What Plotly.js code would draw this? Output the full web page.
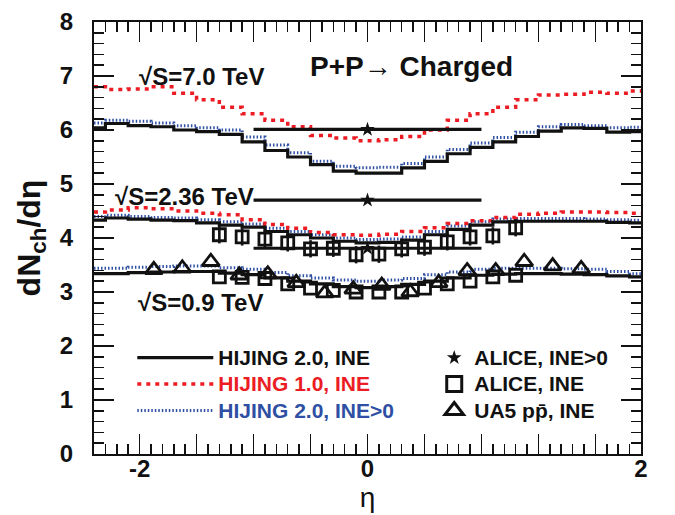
<!DOCTYPE html>
<html>
<head>
<meta charset="utf-8">
<script src="https://cdn.plot.ly/plotly-3.0.1.min.js"></script>
<style>html,body{margin:0;padding:0;background:#fff;}#chart{width:675px;height:515px;}</style>
</head>
<body>
<div id="chart"></div>
<script>
// ---- data ----
const eta = [-2.4,-2.2,-2.0,-1.8,-1.6,-1.4,-1.2,-1.0,-0.8,-0.6,-0.4,-0.2,0,0.2,0.4,0.6,0.8,1.0,1.2,1.4,1.6,1.8,2.0,2.2,2.4];

const hij20_7000 = [6.04,6.12,6.08,6.06,6.00,5.97,5.92,5.78,5.62,5.50,5.36,5.24,5.20,5.20,5.30,5.42,5.56,5.68,5.78,5.88,5.98,6.04,6.03,5.96,5.97];
const hij10_7000 = [6.80,6.75,6.76,6.80,6.68,6.56,6.42,6.30,6.18,6.06,5.90,5.85,5.80,5.82,5.88,6.00,6.18,6.30,6.42,6.56,6.65,6.66,6.70,6.68,6.72];
const hij20g_7000 = [6.13,6.18,6.16,6.13,6.08,6.04,6.00,5.87,5.72,5.58,5.42,5.33,5.30,5.31,5.38,5.50,5.64,5.76,5.86,5.96,6.06,6.10,6.08,6.04,6.05];

const hij20_2360 = [4.33,4.37,4.35,4.33,4.32,4.28,4.24,4.20,4.12,4.06,4.00,3.94,3.91,3.92,3.96,4.06,4.16,4.24,4.30,4.31,4.31,4.31,4.31,4.29,4.28];
const hij10_2360 = [4.48,4.52,4.56,4.54,4.50,4.46,4.43,4.34,4.25,4.18,4.10,4.06,4.05,4.07,4.12,4.19,4.27,4.32,4.38,4.44,4.46,4.48,4.48,4.47,4.46];
const hij20g_2360 = [4.40,4.42,4.40,4.38,4.37,4.34,4.30,4.26,4.18,4.12,4.06,4.00,3.97,3.98,4.02,4.12,4.22,4.30,4.35,4.36,4.36,4.36,4.35,4.34,4.33];

const hij20_900 = [3.34,3.34,3.36,3.37,3.38,3.38,3.35,3.32,3.26,3.20,3.15,3.10,3.08,3.10,3.14,3.20,3.26,3.31,3.33,3.34,3.34,3.33,3.32,3.30,3.28];
const hij20g_900 = [3.44,3.44,3.46,3.47,3.48,3.48,3.45,3.42,3.36,3.30,3.26,3.22,3.20,3.22,3.25,3.32,3.37,3.42,3.44,3.44,3.44,3.43,3.42,3.38,3.34];

const aliceRange = [-1, 1];
const aliceInel0 = [6.01, 4.70, 3.81];

const aliceEta = [-1.3,-1.1,-0.9,-0.7,-0.5,-0.3,-0.1,0.1,0.3,0.5,0.7,0.9,1.1,1.3];
const alice2360 = [4.06,4.02,3.98,3.91,3.80,3.81,3.69,3.70,3.80,3.83,3.93,4.02,4.04,4.19];
const alice2360Err = [0.16,0.16,0.16,0.16,0.16,0.16,0.16,0.16,0.16,0.16,0.16,0.16,0.16,0.16];
const alice900 = [3.28,3.27,3.25,3.15,3.07,3.03,3.00,3.00,3.00,3.07,3.15,3.20,3.28,3.31];

const ua5Eta = [-1.875,-1.625,-1.375,-1.125,-0.875,-0.625,-0.375,-0.125,0.125,0.375,0.625,0.875,1.125,1.375,1.625,1.875];
const ua5 = [3.41,3.44,3.56,3.31,3.33,3.17,2.98,3.05,3.12,3.00,3.17,3.39,3.39,3.56,3.48,3.43];

const xTickVals = [-2,-1.5,-1,-0.5,0,0.5,1,1.5,2,2.4];
const xTickText = ['-2','','','','0','','','','','2'];

// ---- styles ----
const RED = '#ec1c24', BLUE = '#2e4fa3', BLACK = '#111';
const FONT = 'Liberation Sans, Arial, Helvetica, sans-serif';
const blackLine = {color: BLACK, width: 3.2, shape: 'hvh'};
const redLine = {color: RED, width: 3.5, dash: '4px,5px', shape: 'hvh'};
const blueLine = {color: BLUE, width: 3, dash: '1.5px,2px', shape: 'hvh'};
const big = function (s) { return '<span style="font-size:21px">' + s + '</span>'; };

const traces = [];
function curve(y, line, name, show) {
  traces.push({x: eta, y: y, type: 'scatter', mode: 'lines', line: line,
    name: name, showlegend: show, legend: 'legend', hoverinfo: 'skip'});
}
curve(hij20g_7000, blueLine, 'b', false);
curve(hij20g_2360, blueLine, 'b', false);
curve(hij20g_900, blueLine, 'b', false);
curve(hij10_7000, redLine, 'r', false);
curve(hij10_2360, redLine, 'r', false);
curve(hij20_7000, blackLine, big('HIJING 2.0, INE'), true);
curve(hij20_2360, blackLine, 'k', false);
curve(hij20_900, blackLine, 'k', false);

// legend-only entries for red and blue
traces.push({x: [null], y: [null], type: 'scatter', mode: 'lines', line: redLine,
  name: '<span style="color:' + RED + ';font-size:21px">HIJING 1.0, INE</span>', legend: 'legend'});
traces.push({x: [null], y: [null], type: 'scatter', mode: 'lines', line: blueLine,
  name: '<span style="color:' + BLUE + ';font-size:21px">HIJING 2.0, INE&gt;0</span>', legend: 'legend'});

// ALICE INE>0 bands with star at eta=0
aliceInel0.forEach(function (v) {
  traces.push({x: aliceRange, y: [v, v], type: 'scatter', mode: 'lines',
    line: {color: BLACK, width: 3.2}, showlegend: false, hoverinfo: 'skip'});
  traces.push({x: [0], y: [v], type: 'scatter', mode: 'markers',
    marker: {symbol: 'star', size: 11, color: BLACK}, showlegend: false});
});

// ALICE INE squares
traces.push({x: aliceEta, y: alice2360, type: 'scatter', mode: 'markers',
  error_y: {type: 'data', array: alice2360Err, visible: true, color: BLACK, thickness: 2.6, width: 0},
  marker: {symbol: 'square-open', size: 12, color: BLACK, line: {width: 2.8, color: BLACK}},
  showlegend: false});
traces.push({x: aliceEta, y: alice900, type: 'scatter', mode: 'markers',
  marker: {symbol: 'square-open', size: 12, color: BLACK, line: {width: 2.8, color: BLACK}},
  showlegend: false});
// UA5 triangles
traces.push({x: ua5Eta, y: ua5, type: 'scatter', mode: 'markers',
  marker: {symbol: 'triangle-up-open', size: 15, color: BLACK, line: {width: 2.8, color: BLACK}},
  showlegend: false});

// second legend entries
traces.push({x: [null], y: [null], type: 'scatter', mode: 'markers', legend: 'legend2',
  marker: {symbol: 'star', size: 11, color: BLACK}, name: big('ALICE, INE&gt;0')});
traces.push({x: [null], y: [null], type: 'scatter', mode: 'markers', legend: 'legend2',
  marker: {symbol: 'square-open', size: 15, color: BLACK, line: {width: 3, color: BLACK}}, name: big('ALICE, INE')});
traces.push({x: [null], y: [null], type: 'scatter', mode: 'markers', legend: 'legend2',
  marker: {symbol: 'triangle-up-open', size: 17, color: BLACK, line: {width: 3, color: BLACK}}, name: big('UA5 pp\u0304, INE')});

const boldFont = function (s) { return {family: FONT, size: s, color: BLACK, weight: 'bold'}; };

const layout = {
  width: 675, height: 515,
  margin: {l: 94, r: 34, t: 22, b: 61},
  paper_bgcolor: '#fff', plot_bgcolor: '#fff',
  font: {family: FONT, color: BLACK},
  showlegend: true,
  xaxis: {
    range: [-2.4, 2.4], tickmode: 'array', tickvals: xTickVals, ticktext: xTickText,
    ticks: 'inside', ticklen: 20, tickwidth: 1.5, tickcolor: BLACK,
    minor: {dtick: 0.1, tick0: 0, ticks: 'inside', ticklen: 10, tickwidth: 1.5, tickcolor: BLACK},
    showgrid: false, zeroline: false, showline: true, linecolor: BLACK, linewidth: 2,
    mirror: 'allticks', tickfont: boldFont(24), ticklabelstandoff: -8,
    title: {text: '\u03b7', font: {family: FONT, size: 28, color: BLACK}, standoff: 2}
  },
  yaxis: {
    range: [0, 8], dtick: 1, tick0: 0,
    ticks: 'inside', ticklen: 20, tickwidth: 1.5, tickcolor: BLACK,
    minor: {dtick: 0.2, tick0: 0, ticks: 'inside', ticklen: 10, tickwidth: 1.5, tickcolor: BLACK},
    showgrid: false, zeroline: false, showline: true, linecolor: BLACK, linewidth: 2,
    mirror: 'allticks', tickfont: boldFont(24), ticklabelstandoff: 14,
    title: {text: 'dN<sub>ch</sub>/d\u03b7', font: boldFont(32), standoff: 10}
  },
  legend: {
    x: 0.07, y: 0.265, xanchor: 'left', yanchor: 'top',
    bgcolor: 'rgba(0,0,0,0)', borderwidth: 0, itemwidth: 76,
    font: boldFont(18), tracegroupgap: 0, itemclick: false
  },
  legend2: {
    x: 0.622, y: 0.265, xanchor: 'left', yanchor: 'top',
    bgcolor: 'rgba(0,0,0,0)', borderwidth: 0, itemwidth: 30,
    font: boldFont(18), tracegroupgap: 0, itemclick: false
  },
  annotations: [
    {text: 'P+P\u2192 Charged', xref: 'paper', yref: 'paper', x: 0.58, y: 0.896,
     xanchor: 'center', yanchor: 'middle', showarrow: false, font: boldFont(28)},
    {text: '\u221aS=7.0 TeV', xref: 'paper', yref: 'paper', x: 0.196, y: 0.873,
     xanchor: 'center', yanchor: 'middle', showarrow: false, font: boldFont(24)},
    {text: '\u221aS=2.36 TeV', xref: 'paper', yref: 'paper', x: 0.166, y: 0.597,
     xanchor: 'center', yanchor: 'middle', showarrow: false, font: boldFont(24)},
    {text: '\u221aS=0.9 TeV', xref: 'paper', yref: 'paper', x: 0.194, y: 0.35,
     xanchor: 'center', yanchor: 'middle', showarrow: false, font: boldFont(24)}
  ]
};

Plotly.newPlot('chart', traces, layout, {displayModeBar: false, staticPlot: true});
</script>
</body>
</html>
